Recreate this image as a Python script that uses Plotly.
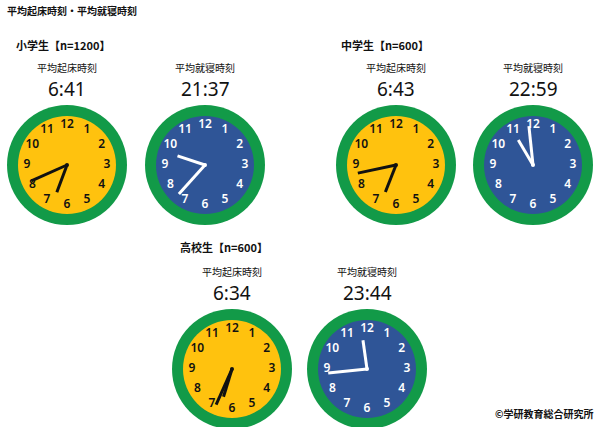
import math
import plotly.graph_objs as go

# data
groups = ['小学生【n=1200】', '中学生【n=600】', '高校生【n=600】']
wake_times = ['6:41', '6:43', '6:34']
sleep_times = ['21:37', '22:59', '23:44']
label_wake = '平均起床時刻'
label_sleep = '平均就寝時刻'
dial_numbers = [str(n) for n in range(1, 13)]

# layout of the infographic in pixel units (x right, y down)
clock_centers = [
    [(67, 165), (205, 165)],
    [(396, 165), (533, 165)],
    [(232, 369), (367, 369)],
]
group_label_pos = [(14, 45), (339, 45), (178, 247)]
R_OUT, R_IN, R_NUM = 60, 49, 40
L_MIN, L_HOUR = 39, 29

GREEN = '#129A48'
YELLOW = '#FFC20E'
BLUE = '#2F5597'
JP = 'Noto Sans CJK JP'

traces = []
shapes = []
annotations = []


def point(cx, cy, angle, length):
    rad = math.radians(angle)
    return cx + length * math.sin(rad), cy - length * math.cos(rad)


def clock(cx, cy, time_str, face, ink, label):
    shapes.append(dict(type='circle', xref='x', yref='y', x0=cx - R_OUT, x1=cx + R_OUT,
                       y0=cy - R_OUT, y1=cy + R_OUT, fillcolor=GREEN, line=dict(width=0),
                       layer='below'))
    shapes.append(dict(type='circle', xref='x', yref='y', x0=cx - R_IN, x1=cx + R_IN,
                       y0=cy - R_IN, y1=cy + R_IN, fillcolor=face, line=dict(width=0),
                       layer='below'))
    xs, ys = [], []
    for i, n in enumerate(dial_numbers):
        x, y = point(cx, cy, (i + 1) * 30, R_NUM)
        xs.append(x)
        ys.append(y)
    traces.append(go.Scatter(x=xs, y=ys, mode='text', text=dial_numbers,
                             textfont=dict(family='Noto Sans', size=12, color=ink, weight=600),
                             hoverinfo='skip'))
    h, m = [int(v) for v in time_str.split(':')]
    min_angle = m * 6
    hour_angle = ((h % 12) + m / 60) * 30
    for ang, ln in [(min_angle, L_MIN), (hour_angle, L_HOUR)]:
        x, y = point(cx, cy, ang, ln)
        traces.append(go.Scatter(x=[cx, x], y=[cy, y], mode='lines',
                                 line=dict(color=ink, width=3), hoverinfo='skip'))
    traces.append(go.Scatter(x=[cx], y=[cy], mode='markers',
                             marker=dict(color=ink, size=4), hoverinfo='skip'))
    annotations.append(dict(x=cx, y=cy - 98, text=label, showarrow=False,
                            font=dict(family=JP, size=10, color='#111'),
                            xanchor='center', yanchor='middle'))
    annotations.append(dict(x=cx, y=cy - 76, text=time_str, showarrow=False,
                            font=dict(family='Noto Sans', size=19, color='#111'),
                            xanchor='center', yanchor='middle'))


for gi, grp in enumerate(groups):
    (c1, c2) = clock_centers[gi]
    clock(c1[0], c1[1], wake_times[gi], YELLOW, '#111111', label_wake)
    clock(c2[0], c2[1], sleep_times[gi], BLUE, '#FFFFFF', label_sleep)
    gx, gy = group_label_pos[gi]
    annotations.append(dict(x=gx, y=gy, text='<b>' + grp + '</b>', showarrow=False,
                            font=dict(family=JP, size=11, color='#111'),
                            xanchor='left', yanchor='middle'))

annotations.append(dict(x=5, y=10, text='<b>平均起床時刻・平均就寝時刻</b>',
                        showarrow=False, font=dict(family=JP, size=10, color='#111'),
                        xanchor='left', yanchor='middle'))
annotations.append(dict(x=596, y=413, text='<b>©学研教育総合研究所</b>', showarrow=False,
                        font=dict(family=JP, size=10, color='#111'),
                        xanchor='right', yanchor='middle'))

layout = go.Layout(
    width=600,
    height=427,
    margin=dict(l=0, r=0, t=0, b=0),
    paper_bgcolor='white',
    plot_bgcolor='white',
    showlegend=False,
    xaxis=dict(range=(0, 600), visible=False, fixedrange=True),
    yaxis=dict(range=(427, 0), visible=False, fixedrange=True),
    shapes=shapes,
    annotations=annotations,
)

fig = go.Figure(data=traces, layout=layout)
# drop the default body margin so the figure sits at the window's corner
fig.write_html('out.html', config=dict(displayModeBar=False),
               post_script="document.body.style.margin='0';")
